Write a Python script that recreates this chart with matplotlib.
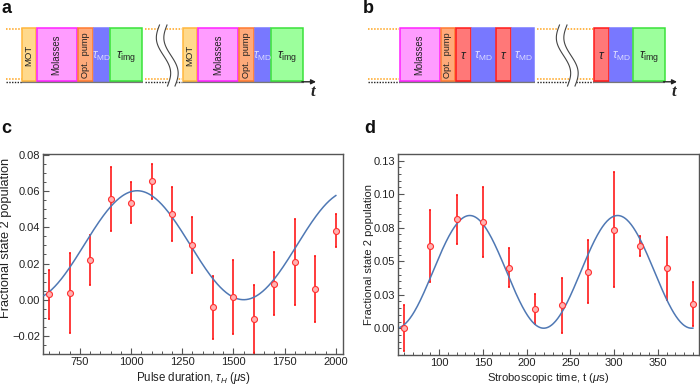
import numpy as np
import matplotlib
matplotlib.use("Agg")
import matplotlib.pyplot as plt
from matplotlib.patches import Rectangle, Polygon
from matplotlib.ticker import MultipleLocator, FixedLocator

plt.rcParams['font.family'] = ['Liberation Sans', 'DejaVu Sans']
plt.rcParams['mathtext.fontset'] = 'custom'
plt.rcParams['mathtext.rm'] = 'Liberation Sans'
plt.rcParams['mathtext.it'] = 'Liberation Sans:italic'
plt.rcParams['mathtext.bf'] = 'Liberation Sans:bold'
plt.rcParams['axes.unicode_minus'] = True

# ---------------- data: panel c ----------------
c_x = [600, 700, 800, 900, 1000, 1100, 1200, 1300, 1400, 1500, 1600, 1700, 1800, 1900, 2000]
c_y = [0.0029, 0.0038, 0.0220, 0.0556, 0.0537, 0.0655, 0.0472, 0.0301, -0.0041, 0.0016,
       -0.0105, 0.0088, 0.0208, 0.0060, 0.0381]
c_err = [0.0134, 0.0222, 0.0140, 0.0179, 0.0112, 0.0097, 0.0150, 0.0156, 0.0174, 0.0203,
         0.0188, 0.0173, 0.0239, 0.0183, 0.0091]
# fitted curve parameters (peak value, peak position, period)
c_fit_peak = 0.0602
c_fit_center = 1030.0
c_fit_period = 1040.0
c_fit_range = (575, 2000)
c_xticks = [750, 1000, 1250, 1500, 1750, 2000]
c_yticks = [-0.02, 0.0, 0.02, 0.04, 0.06, 0.08]
c_yticklabels = ['\u22120.02', '0.00', '0.02', '0.04', '0.06', '0.08']

# ---------------- data: panel d ----------------
d_x = [60, 90, 120, 150, 180, 210, 240, 270, 300, 330, 360, 390]
d_y = [0.0000, 0.0614, 0.0813, 0.0791, 0.0452, 0.0146, 0.0170, 0.0423, 0.0734, 0.0614,
       0.0447, 0.0180]
d_err = [0.0170, 0.0267, 0.0182, 0.0262, 0.0148, 0.0111, 0.0205, 0.0233, 0.0430, 0.0073,
         0.0235, 0.0164]
d_fit_peak = 0.0841
d_fit_center = 135.0
d_fit_period = 169.0
d_fit_range = (55, 390)
d_xticks = [100, 150, 200, 250, 300, 350]
d_yticks = [0.0, 0.025, 0.05, 0.075, 0.1, 0.125]
d_yticklabels = ['0.00', '0.03', '0.05', '0.08', '0.10', '0.13']

# ---------------- schematic sequences ----------------
seq_a = ['MOT', 'Molasses', 'Opt. pump', 'tMD', 'timg']
seq_b1 = ['Molasses', 'Opt. pump', 'tau', 'tMD', 'tau', 'tMD']
seq_b2 = ['tau', 'tMD', 'timg']

styles = {
    'MOT':       dict(fc='#ffd98c', ec='#ffb63c', label='MOT', rot=90, col='#222222', fs=6.8),
    'Molasses':  dict(fc='#ff9cff', ec='#ff22ff', label='Molasses', rot=90, col='#222222', fs=6.9),
    'Opt. pump': dict(fc='#ffaa7a', ec='#ff7a30', label='Opt.  pump', rot=90, col='#222222', fs=6.7),
    'tMD':       dict(fc='#7878ff', ec='#7878ff', label=r'$\tau_{\rm MD}$', rot=0, col='#dcdcff', fs=8.6),
    'timg':      dict(fc='#9cff9c', ec='#3ae23a', label=r'$\tau_{\rm img}$', rot=0, col='#222222', fs=9),
    'tau':       dict(fc='#ff7878', ec='#ff1a1a', label=r'$\tau$', rot=0, col='#222222', fs=9),
}
widths_a = {'MOT': 14.3, 'Molasses': 41.5, 'Opt. pump': 15.7, 'tMD': 16.7, 'timg': 33.0}
widths_b = {'Molasses': 40.8, 'Opt. pump': 15.8, 'tau': 16.0, 'tMD': 23.4, 'timg': 32.8}

W, H = 700, 391
fig = plt.figure(figsize=(7.0, 3.91), dpi=100)

# overlay axes in pixel coordinates for the schematics
ov = fig.add_axes([0, 0, 1, 1])
ov.set_xlim(0, W)
ov.set_ylim(H, 0)
ov.axis('off')

Y_TOP, Y_BOT = 28.3, 81.0
Y_BASE = 81.8


def draw_seq(x0, names, widths):
    x = x0
    for n in names:
        st = styles[n]
        w = widths[n]
        ov.add_patch(Rectangle((x + 0.5, Y_TOP), w - 1.0, Y_BOT - Y_TOP, fc=st['fc'], ec=st['ec'],
                               lw=1.1, zorder=3))
        ty = (Y_TOP + Y_BOT) / 2 + (1.5 if st['rot'] == 0 else 0.5)
        ov.text(x + w / 2, ty, st['label'], rotation=st['rot'], ha='center', va='center',
                color=st['col'], fontsize=st['fs'], zorder=4)
        x += w
    return x


def dotted(x1, x2):
    ov.plot([x1, x2], [Y_TOP + 0.3, Y_TOP + 0.3], color='#ffa31a', lw=1.1, ls=(0, (1, 1)), zorder=2)
    ov.plot([x1, x2], [Y_BOT - 1.6, Y_BOT - 1.6], color='#ffa31a', lw=1.1, ls=(0, (1, 1)), zorder=2)
    ov.plot([x1, x2], [Y_BASE, Y_BASE], color='#222222', lw=1.0, ls=(0, (1, 1)), zorder=2)


def brk(xt):
    t = np.linspace(0, 1, 80)
    y = 25 + t * 61
    xl = xt + 8 * t - 5.0 * np.sin(2 * np.pi * t)
    xr = xl + 7.5
    poly = np.column_stack([np.concatenate([xl, xr[::-1]]), np.concatenate([y, y[::-1]])])
    ov.add_patch(Polygon(poly, fc='white', ec='none', zorder=5))
    ov.plot(xl, y, color='#444444', lw=0.8, zorder=6)
    ov.plot(xr, y, color='#444444', lw=0.8, zorder=6)


def baseline(x1, x2):
    ov.plot([x1, x2], [Y_BASE, Y_BASE], color='#777777', lw=1.6, zorder=2, solid_capstyle='butt')


def arrow(x1, x2):
    ov.annotate('', xy=(x2, Y_BASE), xytext=(x1, Y_BASE),
                arrowprops=dict(arrowstyle='-|>', color='#222222', lw=1.0, mutation_scale=7,
                                shrinkA=0, shrinkB=0), zorder=6)


# panel a
dotted(6, 21.5)
e1 = draw_seq(21.7, seq_a, widths_a)
baseline(21.7, e1)
dotted(145, 181.7)
brk(159.5)
e2 = draw_seq(182.7, seq_a, widths_a)
baseline(182.7, e2)
arrow(e2 - 2, 316)
ov.text(310.5, 96, 't', fontsize=12, style='italic', weight='bold', family='Liberation Serif',
        ha='left', va='baseline', color='#222222')

# panel b
dotted(368.3, 398.5)
e1 = draw_seq(399.3, seq_b1, widths_b)
baseline(399.3, e1)
dotted(537, 593)
brk(559.5)
e2 = draw_seq(593.3, seq_b2, widths_b)
baseline(593.3, e2)
arrow(e2 - 2, 677)
ov.text(671.5, 96, 't', fontsize=12, style='italic', weight='bold', family='Liberation Serif',
        ha='left', va='baseline', color='#222222')

# panel labels
for lab, px, py in [('a', 1, 13.3), ('b', 363, 13.3), ('c', 1, 133.3), ('d', 364, 133.3)]:
    fig.text(px / W, 1 - py / H, lab, fontsize=13, weight='bold', ha='left', va='baseline',
             color='#111111')


def style_axes(ax):
    for s in ax.spines.values():
        s.set_color('#555555')
        s.set_linewidth(1.0)
    ax.tick_params(which='both', direction='in', top=False, right=False, color='#555555',
                   labelsize=8, labelcolor='#222222')
    ax.tick_params(which='major', length=4.2, width=0.8, pad=2)
    ax.tick_params(which='minor', length=2.3, width=0.7)


def cosfit(x, peak, center, period):
    return 0.5 * peak * (1 + np.cos(2 * np.pi * (np.asarray(x) - center) / period))


# panel c
axc = fig.add_axes([43 / W, 1 - 354 / H, 300 / W, 200 / H])
axc.errorbar(c_x, c_y, yerr=c_err, fmt='none', ecolor='#ff1a1a', elinewidth=1.2, capsize=1.0,
             capthick=1.2, zorder=2)
xc = np.linspace(*c_fit_range, 400)
axc.plot(xc, cosfit(xc, c_fit_peak, c_fit_center, c_fit_period), color='#4f78b4', lw=1.1, zorder=3)
axc.plot(c_x, c_y, 'o', ms=4.3, mfc='#ffb3b3', mec='#ff3030', mew=0.8, zorder=4)
axc.set_xlim(570, 2035)
axc.set_ylim(-0.030, 0.0805)
axc.xaxis.set_major_locator(FixedLocator(c_xticks))
axc.xaxis.set_minor_locator(MultipleLocator(50))
axc.yaxis.set_major_locator(FixedLocator(c_yticks))
axc.set_yticklabels(c_yticklabels)
axc.yaxis.set_minor_locator(MultipleLocator(0.005))
style_axes(axc)
axc.set_xlabel(r'Pulse duration, $\tau_H$ ($\mu$s)', fontsize=8.3, color='#222222', labelpad=2)
axc.set_ylabel('Fractional state 2 population', fontsize=9.2, color='#222222')
axc.yaxis.set_label_coords(-31 / 300, 0.58)

# panel d
axd = fig.add_axes([398 / W, 1 - 355 / H, 301 / W, 201 / H])
axd.errorbar(d_x, d_y, yerr=d_err, fmt='none', ecolor='#ff1a1a', elinewidth=1.2, capsize=1.0,
             capthick=1.2, zorder=2)
xd = np.linspace(*d_fit_range, 400)
axd.plot(xd, cosfit(xd, d_fit_peak, d_fit_center, d_fit_period), color='#4f78b4', lw=1.1, zorder=3)
axd.plot(d_x, d_y, 'o', ms=4.3, mfc='#ffb3b3', mec='#ff3030', mew=0.8, zorder=4)
axd.set_xlim(53, 397)
axd.set_ylim(-0.020, 0.130)
axd.xaxis.set_major_locator(FixedLocator(d_xticks))
axd.xaxis.set_minor_locator(MultipleLocator(10))
axd.yaxis.set_major_locator(FixedLocator(d_yticks))
axd.set_yticklabels(d_yticklabels)
axd.yaxis.set_minor_locator(MultipleLocator(0.005))
style_axes(axd)
axd.set_xlabel(r'Stroboscopic time, t ($\mu$s)', fontsize=8.1, color='#222222', labelpad=2)
axd.set_ylabel('Fractional state 2 population', fontsize=8.0, color='#222222')
axd.yaxis.set_label_coords(-24.5 / 301, 0.5)

fig.savefig('out.png', dpi=100)
